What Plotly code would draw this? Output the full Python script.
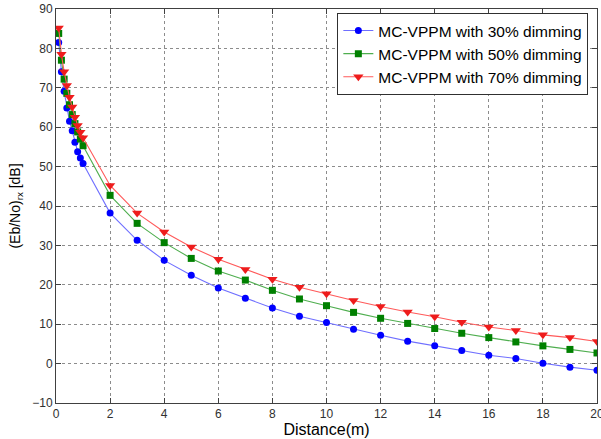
import plotly.graph_objects as go

distance = [0.1, 0.2, 0.3, 0.4, 0.5, 0.6, 0.7, 0.8, 0.9, 1.0,
            2, 3, 4, 5, 6, 7, 8, 9, 10, 11, 12, 13, 14, 15, 16, 17, 18, 19, 20]

dim30 = [81.5, 74.1, 69.1, 64.9, 61.5, 59.1, 56.2, 53.8, 52.2, 50.8,
         38.2, 31.3, 26.2, 22.4, 19.2, 16.6, 14.1, 12.0, 10.4, 8.7,
         7.2, 5.7, 4.5, 3.3, 2.1, 1.3, 0.1, -0.9, -1.7]
dim50 = [83.8, 77.0, 72.2, 68.6, 65.7, 63.2, 60.9, 58.8, 57.0, 55.3,
         42.7, 35.6, 30.7, 26.7, 23.5, 21.2, 18.6, 16.4, 14.7, 13.0,
         11.5, 10.2, 8.9, 7.7, 6.6, 5.5, 4.5, 3.6, 2.7]
dim70 = [85.2, 78.5, 74.1, 70.6, 67.6, 65.1, 62.5, 60.4, 58.7, 57.3,
         45.2, 38.2, 33.4, 29.6, 26.5, 23.9, 21.4, 19.4, 17.7, 16.0,
         14.5, 13.1, 11.9, 10.5, 9.3, 8.4, 7.3, 6.6, 5.6]

names = ["MC-VPPM with 30% dimming", "MC-VPPM with 50% dimming", "MC-VPPM with 70% dimming"]
x_ticks = list(range(0, 21, 2))
y_ticks = list(range(-10, 91, 10))

styles = [
    dict(line="#6f6fff", marker="#0000ff", symbol="circle", size=7),
    dict(line="#4fae4f", marker="#008000", symbol="square", size=7),
    dict(line="#ff5a5a", marker="#ee1c1c", symbol="triangle-down", size=9),
]

fig = go.Figure()
for ys, nm, st in zip([dim30, dim50, dim70], names, styles):
    fig.add_trace(go.Scatter(
        x=distance, y=ys, name=nm, mode="lines+markers",
        line=dict(color=st["line"], width=1.1),
        marker=dict(color=st["marker"], symbol=st["symbol"], size=st["size"],
                    line=dict(width=0)),
    ))

axis_common = dict(
    showline=True, linecolor="#404040", linewidth=1, mirror="ticks",
    ticks="inside", ticklen=5, tickcolor="#404040",
    showgrid=True, gridcolor="#8c8c8c", griddash="dot", gridwidth=1,
    zeroline=False, automargin=False, ticklabeloverflow="allow",
    tickfont=dict(family="Liberation Sans, Arial, sans-serif", size=12, color="#303030"),
)

fig.update_layout(
    width=601, height=439,
    margin=dict(l=56, r=4, t=9, b=36),
    paper_bgcolor="white", plot_bgcolor="white",
    font=dict(family="Liberation Sans, Arial, sans-serif", color="black"),
    xaxis=dict(range=[0, 20], tickvals=x_ticks,
               title=dict(text="Distance(m)", font=dict(size=16), standoff=0),
               **axis_common),
    yaxis=dict(range=[-10, 90], tickvals=y_ticks,
               title=dict(text="(Eb/No)<sub>rx</sub> [dB]", font=dict(size=14), standoff=8),
               **axis_common),
    legend=dict(x=0.984, y=0.99, xanchor="right", yanchor="top",
                bgcolor="white", bordercolor="#303030", borderwidth=1,
                font=dict(size=15.5, color="black"), tracegroupgap=0,
                itemwidth=30),
    showlegend=True,
)

fig.write_html("out.html", config={"displayModeBar": False},
               post_script="document.body.style.margin='0px';")
